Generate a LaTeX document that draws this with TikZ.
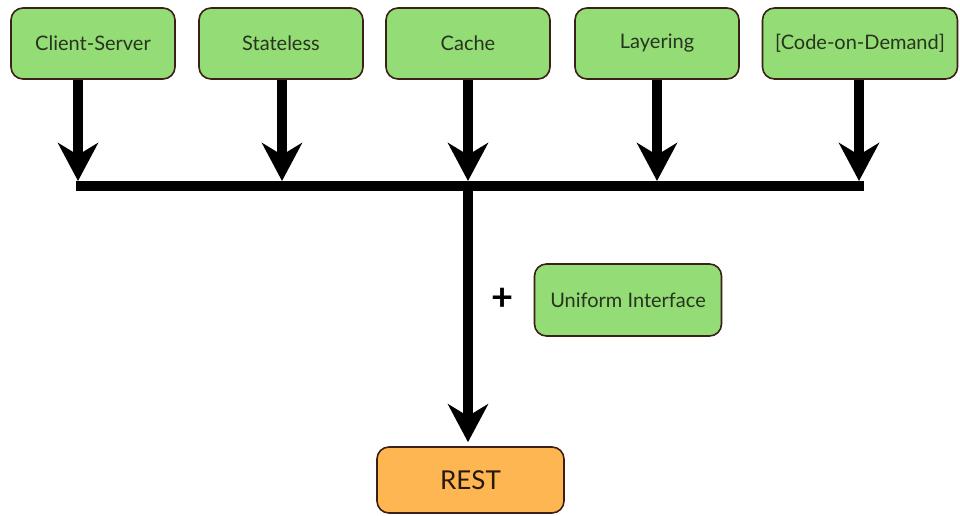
\documentclass[tikz,border=0pt]{standalone}
\usepackage{fontspec}
\setmainfont{Lato}
\usetikzlibrary{arrows.meta}
\definecolor{boxgreen}{RGB}{148,220,118}
\definecolor{boxorange}{RGB}{253,182,82}
\definecolor{boxedge}{RGB}{58,32,22}
\definecolor{txt}{RGB}{40,52,30}
\tikzset{
  box/.style={draw=boxedge, line width=1.6pt, rounded corners=12pt, fill=boxgreen,
    minimum height=71pt, text=txt, font=\fontsize{20}{22}\selectfont, inner sep=0pt},
  bigarrow/.style={line width=10pt, -{Stealth[length=38pt, width=40pt, inset=12pt]}},
  barline/.style={line width=10pt}
}
\begin{document}
\begin{tikzpicture}[x=1pt, y=-1pt]
\useasboundingbox (0,0) rectangle (960,515);
\node[box, minimum width=164pt] (cs) at (93,43.5) {Client-Server};
\node[box, minimum width=164pt] (st) at (281,43.5) {Stateless};
\node[box, minimum width=164pt] (ca) at (468,43.5) {Cache};
\node[box, minimum width=164pt] (la) at (657,43.5) {Layering};
\node[box, minimum width=195pt] (cod) at (860,43.5) {[Code-on-Demand]};
\node[box, minimum width=187pt, minimum height=72pt] (ui) at (628,300) {Uniform Interface};
\node[box, fill=boxorange, minimum width=187pt, minimum height=66pt, text=black!80!brown,
  font=\fontsize{26}{28}\selectfont] (rest) at (470.5,480) {REST};
\node[font=\fontsize{38}{40}\selectfont\bfseries] (plus) at (503,299) {+};
\coordinate (b1) at (78,181);
\coordinate (b2) at (282,181);
\coordinate (b3) at (468,181);
\coordinate (b4) at (657,181);
\coordinate (b5) at (859,181);
\coordinate (bl) at (76,186);
\coordinate (br) at (864,186);
\coordinate (bm) at (468,186);
\draw[bigarrow] (cs.south -| b1) -- (b1);
\draw[bigarrow] (st.south -| b2) -- (b2);
\draw[bigarrow] (ca.south) -- (b3);
\draw[bigarrow] (la.south) -- (b4);
\draw[bigarrow] (cod.south -| b5) -- (b5);
\draw[barline] (bl) -- (br);
\draw[bigarrow, shorten >=4pt] (bm) -- (rest.north -| bm);
\end{tikzpicture}
\end{document}
